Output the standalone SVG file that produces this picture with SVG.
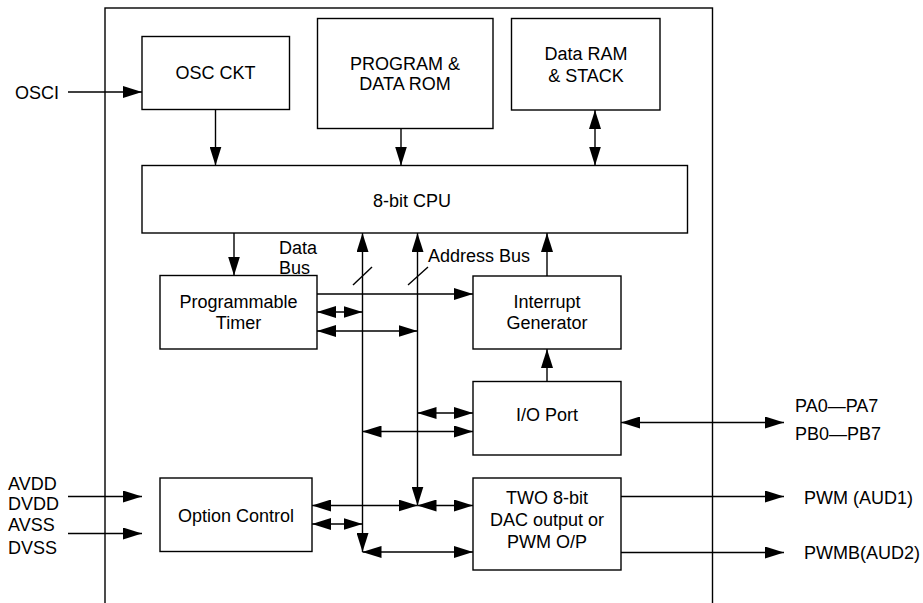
<svg xmlns="http://www.w3.org/2000/svg" width="923" height="603" viewBox="0 0 923 603">
<style>
.box{fill:#fff;stroke:#000;stroke-width:1.4}
.ln{fill:none;stroke:#000;stroke-width:1.4}
.t{font-family:"Liberation Sans",Arial,sans-serif;font-size:18px;fill:#000}
.c{text-anchor:middle}
.e{marker-end:url(#a)}
.b{marker-start:url(#a);marker-end:url(#a)}
</style>
<defs>
<marker id="a" markerUnits="userSpaceOnUse" markerWidth="19" markerHeight="12" refX="19" refY="6" orient="auto-start-reverse" viewBox="0 0 19 12"><path d="M0,0 L19,6 L0,12 z" fill="#000"/></marker>
</defs>
<rect width="923" height="603" fill="#fff"/>
<rect id="chip" x="105" y="8" width="607.5" height="620" class="box" fill="none" style="fill:none"/>

<g id="osc"><rect class="box" x="142" y="36.5" width="147.5" height="73"/><text class="t c" x="215.5" y="79">OSC CKT</text></g>
<g id="rom"><rect class="box" x="317.5" y="18.5" width="175.5" height="110"/><text class="t c" x="405" y="69.5">PROGRAM &amp;</text><text class="t c" x="405" y="90">DATA ROM</text></g>
<g id="ram"><rect class="box" x="511.5" y="18.5" width="148.5" height="91.5"/><text class="t c" x="586" y="59.5">Data RAM</text><text class="t c" x="586" y="81.5">&amp; STACK</text></g>
<g id="cpu"><rect class="box" x="142" y="165.5" width="545.5" height="67.5"/><text class="t c" x="412" y="206.5">8-bit CPU</text></g>
<g id="timer"><rect class="box" x="160" y="275.5" width="157" height="73.5"/><text class="t c" x="238.5" y="307.5">Programmable</text><text class="t c" x="238.5" y="328.5">Timer</text></g>
<g id="intgen"><rect class="box" x="473" y="276" width="148" height="73"/><text class="t c" x="547" y="307.5">Interrupt</text><text class="t c" x="547" y="328.5">Generator</text></g>
<g id="io"><rect class="box" x="473" y="381.5" width="148" height="73.5"/><text class="t c" x="547" y="420.5">I/O Port</text></g>
<g id="dac"><rect class="box" x="473" y="478" width="148" height="92"/><text class="t c" x="547" y="503.5">TWO 8-bit</text><text class="t c" x="547" y="525.5">DAC output or</text><text class="t c" x="547" y="547.5">PWM O/P</text></g>
<g id="opt"><rect class="box" x="160" y="478" width="152" height="73.5"/><text class="t c" x="236" y="521.5">Option Control</text></g>

<g id="labels">
<text class="t" x="15" y="99">OSCI</text>
<text class="t" x="279" y="253.5">Data</text>
<text class="t" x="279" y="273.5">Bus</text>
<text class="t" x="428" y="261.5">Address Bus</text>
<text class="t" x="795" y="411.5">PA0—PA7</text>
<text class="t" x="795" y="439.5">PB0—PB7</text>
<text class="t" x="804" y="503.5">PWM (AUD1)</text>
<text class="t" x="804" y="558.5">PWMB(AUD2)</text>
<text class="t" x="8" y="489.5">AVDD</text>
<text class="t" x="8" y="509.5">DVDD</text>
<text class="t" x="8" y="530.5">AVSS</text>
<text class="t" x="8" y="553.5">DVSS</text>
</g>

<g id="connectors">
<line class="ln e" x1="68" y1="92" x2="142" y2="92"/>
<line class="ln e" x1="215.5" y1="109.5" x2="215.5" y2="165.5"/>
<line class="ln e" x1="401" y1="128.5" x2="401" y2="165.5"/>
<line class="ln b" x1="595" y1="110" x2="595" y2="165.5"/>
<line class="ln e" x1="234" y1="233" x2="234" y2="275.5"/>
<line class="ln b" x1="362.5" y1="552" x2="362.5" y2="233"/>
<line class="ln b" x1="417.5" y1="505.5" x2="417.5" y2="233"/>
<line class="ln" x1="353" y1="285" x2="372" y2="267"/>
<line class="ln" x1="408" y1="285" x2="428" y2="267"/>
<line class="ln e" x1="547" y1="276" x2="547" y2="233"/>
<line class="ln e" x1="317" y1="294" x2="473" y2="294"/>
<line class="ln b" x1="317" y1="312" x2="362.5" y2="312"/>
<line class="ln b" x1="317" y1="331" x2="417.5" y2="331"/>
<line class="ln e" x1="547" y1="381.5" x2="547" y2="349"/>
<line class="ln b" x1="417.5" y1="413" x2="473" y2="413"/>
<line class="ln b" x1="362.5" y1="431.5" x2="473" y2="431.5"/>
<line class="ln b" x1="621" y1="422.5" x2="784" y2="422.5"/>
<line class="ln b" x1="312" y1="505.5" x2="417.5" y2="505.5"/>
<line class="ln b" x1="417.5" y1="505.5" x2="473" y2="505.5"/>
<line class="ln b" x1="312" y1="524" x2="362.5" y2="524"/>
<line class="ln b" x1="362.5" y1="552" x2="473" y2="552"/>
<line class="ln e" x1="621" y1="496.5" x2="784" y2="496.5"/>
<line class="ln e" x1="621" y1="552.5" x2="784" y2="552.5"/>
<line class="ln e" x1="68" y1="496.5" x2="142" y2="496.5"/>
<line class="ln e" x1="68" y1="533.5" x2="142" y2="533.5"/>
</g>
</svg>
